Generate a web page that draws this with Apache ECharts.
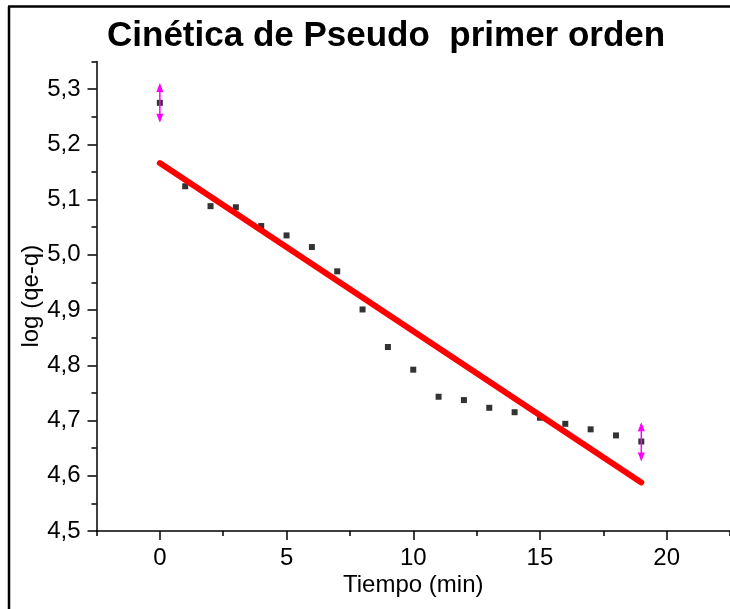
<!DOCTYPE html>
<html>
<head>
<meta charset="utf-8">
<script src="https://cdn.jsdelivr.net/npm/echarts@6/dist/echarts.min.js"></script>
<style>
html,body{margin:0;padding:0;background:#fff;overflow:hidden;}
#chart{width:730px;height:609px;}
</style>
</head>
<body>
<div id="chart"></div>
<script>
// ---- data ----
const titleText = 'Cinética de Pseudo  primer orden';
const xName = 'Tiempo (min)';
const yName = 'log (qe-q)';
const time = [0,1,2,3,4,5,6,7,8,9,10,11,12,13,14,15,16,17,18,19];
const logq = [5.275,5.124,5.088,5.086,5.052,5.035,5.014,4.970,4.901,4.833,4.792,4.743,4.737,4.723,4.715,4.705,4.694,4.684,4.673,4.662];
const fitX = [0, 19];
const fitY = [5.166, 4.588];
const errX = [0, 19];
const errLow = [5.239, 4.626];
const errHigh = [5.311, 4.697];
const xMajor = [0, 5, 10, 15, 20];
const yMajor = [4.5, 4.6, 4.7, 4.8, 4.9, 5.0, 5.1, 5.2, 5.3];

const FONT = 'Liberation Sans, Arial, sans-serif';
const axisColor = '#000';

const chart = echarts.init(document.getElementById('chart'));

const scatterData = time.map((t, i) => [t, logq[i]]);
const fitData = fitX.map((t, i) => [t, fitY[i]]);
const errData = errX.map((t, i) => [t, errLow[i], errHigh[i]]);

const fmt = v => Number(v).toFixed(1).replace('.', ',');

const option = {
  backgroundColor: '#fff',
  animation: false,
  title: {
    text: titleText,
    left: 107,
    top: 19,
    padding: 0,
    textStyle: { fontFamily: FONT, fontSize: 35, fontWeight: 'bold', color: '#000' }
  },
  grid: { left: 96.5, right: -4.5, top: 61.4, bottom: 78, containLabel: false },
  xAxis: [
    {
      type: 'value', min: -2.5, max: 22.5, interval: 2.5, position: 'bottom',
      axisLine: { show: true, onZero: false, lineStyle: { color: axisColor, width: 1.5 } },
      axisTick: { show: true, length: 5, lineStyle: { color: axisColor, width: 1.5 } },
      axisLabel: { show: false },
      splitLine: { show: false }
    },
    {
      type: 'value', min: -2.5, max: 22.5, position: 'bottom',
      axisLine: { show: false, onZero: false },
      axisTick: { show: true, length: 9, customValues: xMajor, lineStyle: { color: axisColor, width: 1.5 } },
      axisLabel: { customValues: xMajor, fontFamily: FONT, fontSize: 24, color: '#000', margin: 15 },
      splitLine: { show: false },
      name: xName, nameLocation: 'middle', nameGap: 42, nameMoveOverlap: false,
      nameTextStyle: { fontFamily: FONT, fontSize: 24, color: '#000' }
    }
  ],
  yAxis: [
    {
      type: 'value', min: 4.5, max: 5.35, interval: 0.05, position: 'left',
      axisLine: { show: true, onZero: false, lineStyle: { color: axisColor, width: 1.5 } },
      axisTick: { show: true, length: 5, lineStyle: { color: axisColor, width: 1.5 } },
      axisLabel: { show: false },
      splitLine: { show: false }
    },
    {
      type: 'value', min: 4.5, max: 5.35, position: 'left',
      axisLine: { show: false, onZero: false },
      axisTick: { show: true, length: 9, customValues: yMajor, lineStyle: { color: axisColor, width: 1.5 } },
      axisLabel: { customValues: yMajor, formatter: fmt, fontFamily: FONT, fontSize: 24, color: '#000', margin: 16 },
      splitLine: { show: false },
      name: yName, nameLocation: 'middle', nameGap: 53, nameMoveOverlap: false,
      nameTextStyle: { fontFamily: FONT, fontSize: 24, color: '#000' }
    }
  ],
  graphic: [
    { type: 'line', silent: true, shape: { x1: 9, y1: 6.5, x2: 9, y2: 612 }, style: { stroke: '#000', lineWidth: 2.5 } },
    { type: 'line', silent: true, shape: { x1: 8, y1: 6.5, x2: 730, y2: 6.5 }, style: { stroke: '#000', lineWidth: 2.5 } }
  ],
  series: [
    {
      type: 'scatter', xAxisIndex: 0, yAxisIndex: 0,
      data: scatterData, symbol: 'rect', symbolSize: 6,
      itemStyle: { color: '#000' }, z: 2
    },
    {
      type: 'custom', xAxisIndex: 0, yAxisIndex: 0, data: errData, z: 3,
      renderItem: function (params, api) {
        const x = api.value(0);
        const top = api.coord([x, api.value(2)]);
        const bot = api.coord([x, api.value(1)]);
        const c = '#ff00ff';
        const h = 9, w = 3.5;
        return {
          type: 'group',
          children: [
            { type: 'line', shape: { x1: top[0], y1: top[1] + 2, x2: bot[0], y2: bot[1] - 2 }, style: { stroke: c, lineWidth: 1.5 } },
            { type: 'polygon', shape: { points: [[top[0], top[1]], [top[0] - w, top[1] + h], [top[0] + w, top[1] + h]] }, style: { fill: c } },
            { type: 'polygon', shape: { points: [[bot[0], bot[1]], [bot[0] - w, bot[1] - h], [bot[0] + w, bot[1] - h]] }, style: { fill: c } }
          ]
        };
      }
    },
    {
      type: 'line', xAxisIndex: 0, yAxisIndex: 0,
      data: fitData, showSymbol: false, symbol: 'none',
      lineStyle: { color: '#ff0000', width: 6, cap: 'round' }, z: 4
    }
  ]
};
chart.setOption(option);
</script>
</body>
</html>
